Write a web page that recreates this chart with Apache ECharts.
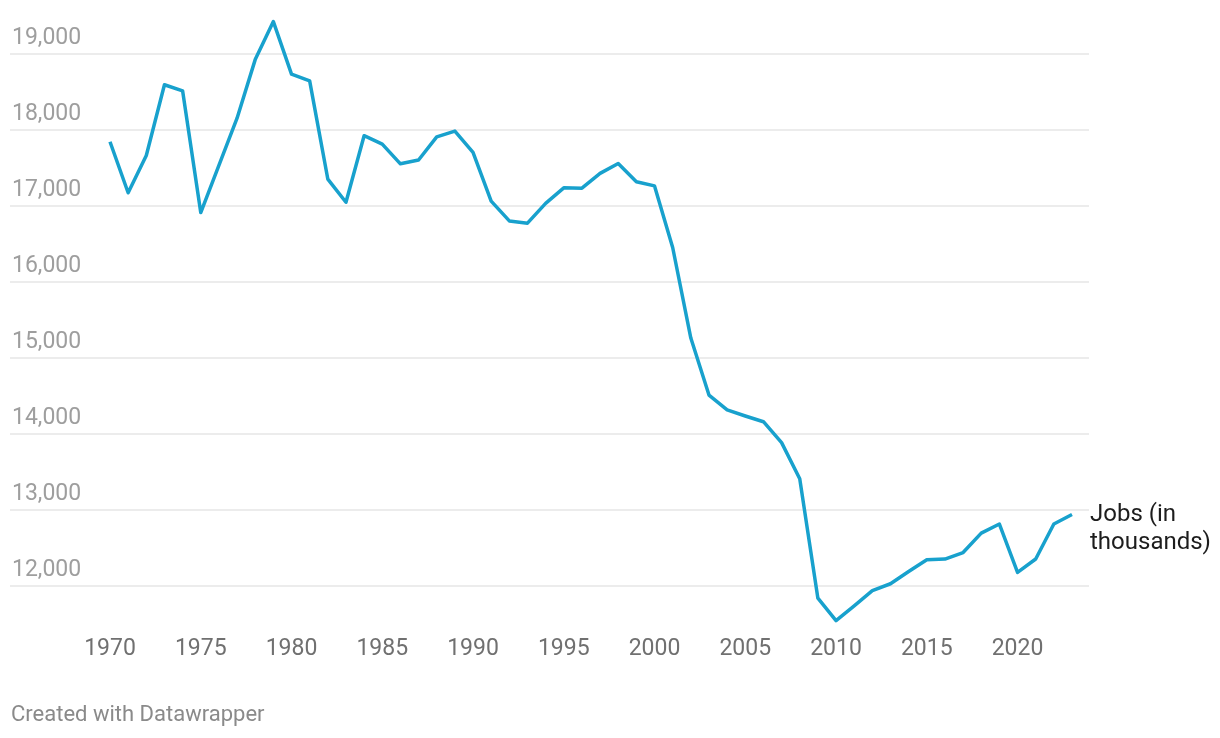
<!DOCTYPE html>
<html>
<head>
<meta charset="utf-8">
<script src="https://cdn.jsdelivr.net/npm/echarts@6/dist/echarts.min.js"></script>
<style>
  html, body { margin: 0; padding: 0; background: #fff; }
  #chart { width: 1220px; height: 738px; }
</style>
</head>
<body>
<div id="chart"></div>
<script>
// jobs in thousands
var years = [];
for (var y = 1970; y <= 2023; y++) years.push(String(y));

var jobs = [
  17840, 17170, 17660, 18590, 18510, 16910, 17530, 18150, 18920, 19420,
  18730, 18640, 17350, 17045, 17920, 17810, 17550, 17600, 17905, 17980,
  17700, 17060, 16800, 16770, 17030, 17235, 17230, 17425, 17555, 17315,
  17260, 16450, 15260, 14510, 14315, 14235, 14160, 13885, 13410, 11840,
  11545, 11740, 11940, 12030, 12190, 12345, 12355, 12440, 12695, 12815,
  12180, 12355, 12815, 12940
];

var seriesName = 'Jobs (in\nthousands)';
var yMin = 11000, yMax = 19500, yStep = 1000;

var font = 'Roboto, "Noto Sans", sans-serif';
var gridTop = 15.5, gridBottom = 75.9;

var chart = echarts.init(document.getElementById('chart'));
var option = {
  backgroundColor: '#fff',
  animation: false,
  graphic: [{
    type: 'text',
    left: 11,
    top: 704,
    style: { text: 'Created with Datawrapper', fill: '#8a8a8a', font: '22px ' + font }
  }],
  grid: [
    { left: 10, right: 131, top: gridTop, bottom: gridBottom },
    { left: 110, right: 148, top: gridTop, bottom: gridBottom }
  ],
  xAxis: [
    { gridIndex: 0, type: 'value', min: 0, max: 1, show: false },
    {
      gridIndex: 1,
      type: 'category',
      data: years,
      boundaryGap: false,
      offset: -30.5,
      axisLine: { show: false },
      axisTick: { show: false },
      axisLabel: {
        interval: 4,
        color: '#707070',
        fontSize: 23,
        fontFamily: font,
        margin: 6
      }
    }
  ],
  yAxis: [
    {
      gridIndex: 0,
      type: 'value',
      min: yMin,
      max: yMax,
      interval: yStep,
      axisLine: { show: false },
      axisTick: { show: false },
      splitLine: {
        show: true,
        showMinLine: false,
        showMaxLine: false,
        lineStyle: { color: '#e6e6e6', width: 1.5 }
      },
      axisLabel: {
        inside: true,
        showMinLabel: false,
        showMaxLabel: false,
        margin: 2,
        color: '#9e9e9e',
        fontSize: 23,
        fontFamily: font,
        verticalAlign: 'bottom',
        lineHeight: 23,
        padding: [0, 0, 4, 0],
        formatter: function (v) { return v.toLocaleString('en-US'); }
      }
    },
    {
      gridIndex: 1,
      type: 'value',
      min: yMin,
      max: yMax,
      interval: yStep,
      show: false
    }
  ],
  series: [{
    name: seriesName,
    type: 'line',
    xAxisIndex: 1,
    yAxisIndex: 1,
    data: jobs,
    showSymbol: false,
    symbol: 'none',
    lineStyle: { color: '#18a1cd', width: 3.5, join: 'round' },
    z: 5,
    endLabel: {
      show: true,
      formatter: function (p) { return p.seriesName; },
      color: '#1d1d1d',
      fontSize: 24,
      fontFamily: font,
      lineHeight: 28,
      distance: 18,
      verticalAlign: 'middle',
      offset: [0, 14]
    }
  }]
};
chart.setOption(option);
</script>
</body>
</html>
